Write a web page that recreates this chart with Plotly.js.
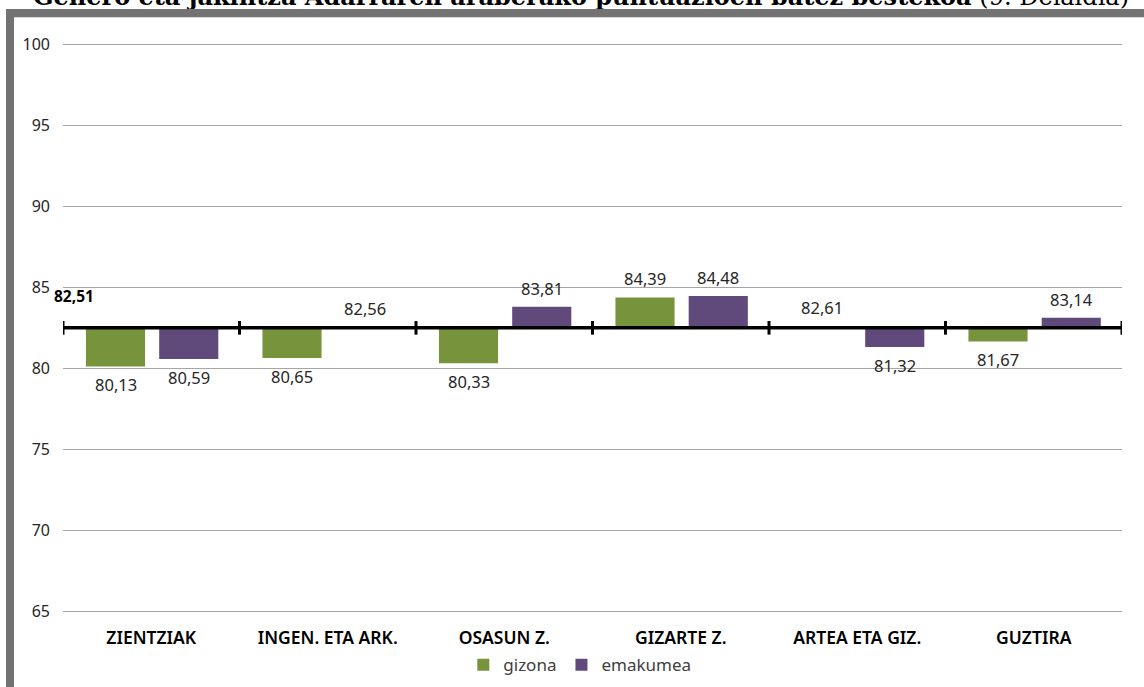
<!DOCTYPE html>
<html>
<head>
<meta charset="utf-8">
<script src="https://cdn.plot.ly/plotly-3.0.1.min.js"></script>
<style>
  html, body { margin: 0; padding: 0; background: #fff; }
  #wrap { position: relative; width: 1144px; height: 687px; overflow: hidden; }
  #chart { width: 1144px; height: 687px; }
  .frame { position: absolute; background: #737373; }
  .frameLight { position: absolute; background: #d9d9d9; }
</style>
</head>
<body>
<div id="wrap">
  <div id="chart"></div>
  <div class="frame" style="left:6px; top:9px; width:1138px; height:8px;"></div>
  <div class="frameLight" style="left:14px; top:17px; width:1130px; height:1px;"></div>
  <div class="frame" style="left:6px; top:9px; width:8px; height:678px;"></div>
</div>
<script>
// ---- data ----
const categories = ["ZIENTZIAK", "INGEN. ETA ARK.", "OSASUN Z.", "GIZARTE Z.", "ARTEA ETA GIZ.", "GUZTIRA"];
const gizona   = [80.13, 80.65, 80.33, 84.39, 82.61, 81.67];
const emakumea = [80.59, 82.56, 83.81, 84.48, 81.32, 83.14];
const baseValue = 82.51;
const seriesNames = ["gizona", "emakumea"];
const yTicks = [65, 70, 75, 80, 85, 90, 95, 100];
const titleBold = "Genero eta jakintza Adarraren araberako puntuazioen batez bestekoa";
const titleNormal = " (9. Deialdia)";

// ---- styling ----
const GREEN = "#77933c";
const PURPLE = "#604a7b";
const FONT = "'Noto Sans', 'Open Sans', sans-serif";
const BAR_W = 0.335;
const OFF_G = -0.37;
const OFF_E = 0.045;

const idx = categories.map((_, i) => i);
const fmt = v => v.toFixed(2).replace(".", ",");

function barTrace(vals, name, color, offset) {
  return {
    type: "bar",
    name: name,
    x: idx,
    y: vals.map(v => v - baseValue),
    base: vals.map(() => baseValue),
    width: vals.map(() => BAR_W),
    offset: vals.map(() => offset),
    marker: { color: color, line: { width: 0 } },
    hoverinfo: "skip"
  };
}

const traces = [
  barTrace(gizona, seriesNames[0], GREEN, OFF_G),
  barTrace(emakumea, seriesNames[1], PURPLE, OFF_E)
];

const annotations = [];
function addLabels(vals, offset) {
  vals.forEach((v, i) => {
    const up = v >= baseValue;
    annotations.push({
      x: i + offset + BAR_W / 2, y: v, xref: "x", yref: "y",
      text: fmt(v), showarrow: false,
      yanchor: up ? "bottom" : "top",
      yshift: up ? 5 : -5,
      font: { family: FONT, size: 16.5, color: "#262626" }
    });
  });
}
addLabels(gizona, OFF_G);
addLabels(emakumea, OFF_E);

annotations.push({
  x: -0.5, y: baseValue, xref: "x", yref: "y",
  text: "<b>" + fmt(baseValue) + "</b>", showarrow: false,
  xanchor: "left", yanchor: "bottom", xshift: -11, yshift: 19,
  font: { family: FONT, size: 15.5, color: "#000" }
});

annotations.push({
  x: 0.489, y: 1.052, xref: "paper", yref: "paper",
  xanchor: "center", yanchor: "bottom", showarrow: false,
  text: "<b>" + titleBold + "</b>" + titleNormal,
  font: { family: "'DejaVu Serif', serif", size: 24, color: "#000" }
});

const shapes = [{
  type: "line", xref: "x", yref: "y",
  x0: -0.5, x1: categories.length - 0.5, y0: baseValue, y1: baseValue,
  line: { color: "#000", width: 3.5 }, layer: "above"
}];
for (let k = 0; k <= categories.length; k++) {
  shapes.push({
    type: "line", xref: "x", yref: "y",
    x0: k - 0.5, x1: k - 0.5, y0: baseValue - 0.42, y1: baseValue + 0.42,
    line: { color: "#000", width: 3 }, layer: "above"
  });
}

const layout = {
  width: 1144, height: 687,
  margin: { l: 63, r: 22, t: 43, b: 74, autoexpand: false },
  paper_bgcolor: "#fff", plot_bgcolor: "#fff",
  showlegend: true,
  legend: {
    orientation: "h", x: 0.488, xanchor: "center", y: -0.06, yanchor: "top",
    font: { family: FONT, size: 17, color: "#404040" },
    itemwidth: 30, tracegroupgap: 0
  },
  xaxis: {
    range: [-0.5, categories.length - 0.5],
    tickvals: idx, ticktext: categories,
    tickfont: { family: FONT, size: 17.5, color: "#000", weight: 600 },
    showgrid: false, zeroline: false, showline: false, ticks: "",
    ticklabelstandoff: 12, fixedrange: true
  },
  yaxis: {
    range: [64.9, 100.1], tickvals: yTicks,
    tickfont: { family: FONT, size: 16, color: "#262626" },
    showgrid: true, gridcolor: "#a6a6a6", gridwidth: 1,
    zeroline: false, showline: false, ticks: "",
    ticklabelstandoff: 12, fixedrange: true
  },
  annotations: annotations,
  shapes: shapes
};

Plotly.newPlot("chart", traces, layout, { displayModeBar: false, staticPlot: true });
</script>
</body>
</html>
